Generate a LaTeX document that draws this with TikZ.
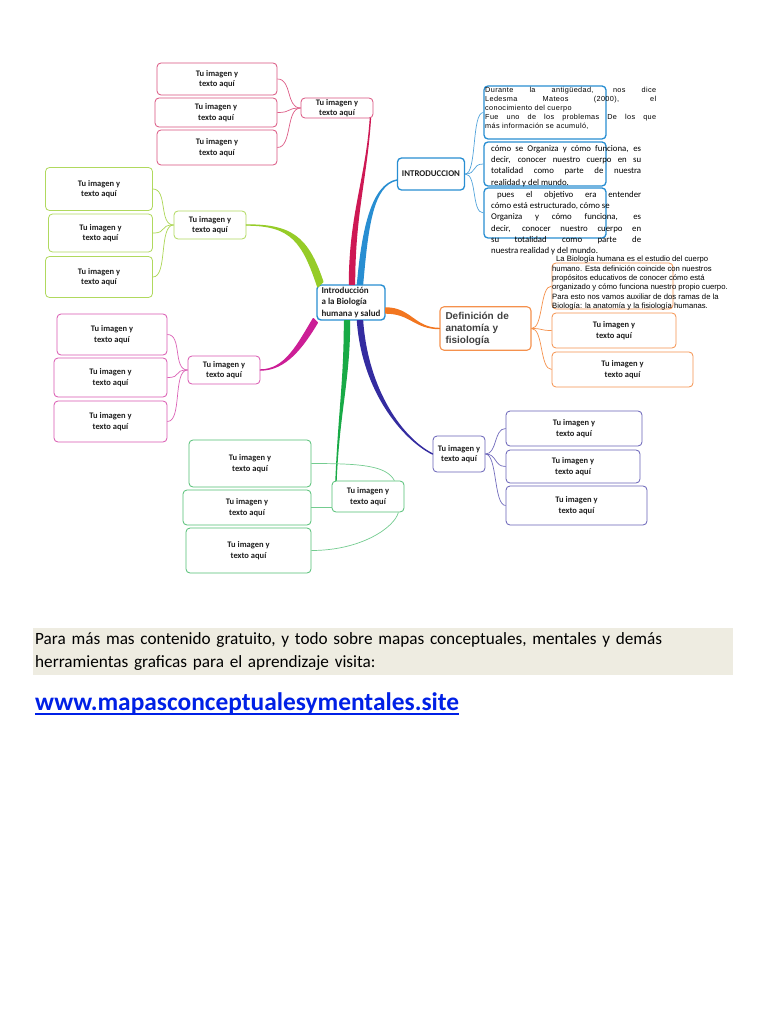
\documentclass[tikz,border=0pt]{standalone}
\usepackage{fontspec}
\setmainfont{Carlito}
\newfontfamily\arialfont{Liberation Sans}
\usetikzlibrary{positioning,calc}
\definecolor{mmred}{RGB}{206,24,84}
\definecolor{mmlime}{RGB}{150,204,40}
\definecolor{mmmagenta}{RGB}{204,30,150}
\definecolor{mmgreen}{RGB}{24,170,70}
\definecolor{mmblue}{RGB}{40,142,210}
\definecolor{mmorange}{RGB}{242,118,32}
\definecolor{mmnavy}{RGB}{52,44,160}
\definecolor{mmtan}{RGB}{238,236,225}
\definecolor{mmlink}{RGB}{0,32,230}
\definecolor{mmtext}{RGB}{30,30,30}
\newcommand{\taper}[6]{%
  \filldraw[#1, line width=1.4pt, line join=round]
    ($(#2)+(#6)$) .. controls +(#4) and +(#5) .. (#3)
    .. controls +(#5) and +(#4) .. ($(#2)-(#6)$) -- cycle;}

\begin{document}
\begin{tikzpicture}[x=1pt, y=-1pt,
  leaf/.style={draw, fill=white, rounded corners=4pt, line width=0.8pt, align=center,
               inner sep=1pt, text=mmtext, font=\fontsize{8.5}{10.5}\selectfont\bfseries},
  redleaf/.style={leaf, draw=mmred!75},
  limeleaf/.style={leaf, draw=mmlime!75},
  magleaf/.style={leaf, draw=mmmagenta!75},
  greenleaf/.style={leaf, draw=mmgreen!75},
  orangeleaf/.style={leaf, draw=mmorange!80},
  navyleaf/.style={leaf, draw=mmnavy!75},
  introbox/.style={draw=mmblue, rounded corners=4pt, line width=1.3pt, inner sep=0pt},
  twig/.style={line width=0.7pt},
  note/.style={inner sep=0pt, anchor=north west, align=justify, text=black},
]
\fill[white] (0,0) rectangle (768,1024);

\node[leaf, draw=mmblue, line width=1.4pt, align=left, minimum width=68pt, minimum height=35pt,
      font=\fontsize{9}{11.5}\selectfont\bfseries] (centre) at (351,302.5)
      {Introducción\\a la Biología\\humana y salud};

\node[redleaf, minimum width=72pt, minimum height=20pt] (redhub) at (337,108) {Tu imagen y\\texto aquí};
\node[redleaf, minimum width=120pt, minimum height=32pt] (reda) at (217,79) {Tu imagen y\\texto aquí};
\node[redleaf, minimum width=122pt, minimum height=29pt] (redb) at (216,112.5) {Tu imagen y\\texto aquí};
\node[redleaf, minimum width=120pt, minimum height=35pt] (redc) at (217,147.5) {Tu imagen y\\texto aquí};

\node[limeleaf, minimum width=72pt, minimum height=28pt] (limehub) at (210,225) {Tu imagen y\\texto aquí};
\node[limeleaf, minimum width=107pt, minimum height=43pt] (limea) at (99,189) {Tu imagen y\\texto aquí};
\node[limeleaf, minimum width=104pt, minimum height=38pt] (limeb) at (100.5,233) {Tu imagen y\\texto aquí};
\node[limeleaf, minimum width=107pt, minimum height=41pt] (limec) at (99,277) {Tu imagen y\\texto aquí};

\node[magleaf, minimum width=72pt, minimum height=28pt] (maghub) at (224,370) {Tu imagen y\\texto aquí};
\node[magleaf, minimum width=110pt, minimum height=41pt] (maga) at (112,334.5) {Tu imagen y\\texto aquí};
\node[magleaf, minimum width=113pt, minimum height=39pt] (magb) at (110.5,377.5) {Tu imagen y\\texto aquí};
\node[magleaf, minimum width=113pt, minimum height=41pt] (magc) at (110.5,421.5) {Tu imagen y\\texto aquí};

\node[greenleaf, minimum width=72pt, minimum height=31pt] (greenhub) at (368,496.5) {Tu imagen y\\texto aquí};
\node[greenleaf, minimum width=122pt, minimum height=47pt] (greena) at (250,463.5) {Tu imagen y\\texto aquí};
\node[greenleaf, minimum width=128pt, minimum height=35pt] (greenb) at (247,507.5) {Tu imagen y\\texto aquí};
\node[greenleaf, minimum width=125pt, minimum height=45pt] (greenc) at (248.5,550.5) {Tu imagen y\\texto aquí};

\node[leaf, draw=mmblue, line width=1.3pt, minimum width=67pt, minimum height=32pt,
      font=\fontsize{8.8}{10.5}\selectfont\bfseries] (intro) at (431,174) {INTRODUCCION};
\node[introbox, minimum width=122pt, minimum height=53pt] (introa) at (545,112.5) {};
\node[introbox, minimum width=122pt, minimum height=44pt] (introb) at (545,164) {};
\node[introbox, minimum width=122pt, minimum height=50pt] (introc) at (545,213) {};
\node[note, text width=171pt, font=\arialfont\addfontfeature{LetterSpace=5}\fontsize{7.3}{9}\selectfont] (introatxt) at (485,87)
  {Durante la antigüedad, nos dice\linebreak Ledesma Mateos (2000), el\linebreak
   conocimiento del cuerpo\newline Fue uno de los problemas De los que\linebreak
   más información se acumuló,};
\node[note, text width=150pt, font=\fontsize{8.8}{11.3}\selectfont] (introbtxt) at (491,145)
  {cómo se Organiza y cómo funciona, es\linebreak decir, conocer nuestro cuerpo en su\linebreak
   totalidad como parte de nuestra\linebreak realidad y del mundo.};
\node[note, text width=150pt, font=\fontsize{8.8}{11.3}\selectfont] (introctxt) at (491,191)
  {\hspace*{6pt}pues el objetivo era entender\linebreak cómo está estructurado, cómo se\newline
   Organiza y cómo funciona, es\linebreak decir, conocer nuestro cuerpo en\linebreak
   su totalidad como parte de\linebreak nuestra realidad y del mundo.};

\node[leaf, draw=mmorange!80, line width=1.1pt, align=left, text width=80pt, inner sep=5pt,
      minimum width=91pt, minimum height=39pt, text=black!75,
      font=\arialfont\fontsize{10}{12}\selectfont\bfseries] (defin) at (485.5,328.5)
      {Definición de\\anatomía y\\fisiología};
\node[orangeleaf, minimum width=121pt, minimum height=46pt] (orangea) at (612.5,286) {};
\node[orangeleaf, minimum width=124pt, minimum height=35pt] (orangeb) at (614,330.5) {Tu imagen y\\texto aquí};
\node[orangeleaf, minimum width=141pt, minimum height=35pt] (orangec) at (622.5,369.5) {Tu imagen y\\texto aquí};
\node[note, align=left, font=\arialfont\fontsize{7.7}{9.3}\selectfont] (orangetxt) at (552,256)
  {\hspace*{4pt}La Biología humana es el estudio del cuerpo\\
   humano. Esta definición coincide con nuestros\\
   propósitos educativos de conocer cómo está\\
   organizado y cómo funciona nuestro propio cuerpo.\\
   Para esto nos vamos auxiliar de dos ramas de la\\
   Biología: la anatomía y la fisiología humanas.};

\node[navyleaf, minimum width=52pt, minimum height=36pt] (navyhub) at (459,454) {Tu imagen y\\texto aquí};
\node[navyleaf, minimum width=136pt, minimum height=35pt] (navya) at (574,428.5) {Tu imagen y\\texto aquí};
\node[navyleaf, minimum width=134pt, minimum height=33pt] (navyb) at (573,466.5) {Tu imagen y\\texto aquí};
\node[navyleaf, minimum width=141pt, minimum height=39pt] (navyc) at (576.5,505.5) {Tu imagen y\\texto aquí};

\taper{mmred}{[xshift=1pt]centre.north}{[xshift=-3pt]redhub.south east}{0,-70}{-4,60}{2.5,0}
\taper{mmlime}{[xshift=4pt]centre.north west}{limehub.east}{-15,-45}{45,0}{2.5,-2.5}
\taper{mmblue}{[xshift=9pt]centre.north}{[yshift=-6pt]intro.west}{5,-55}{-25,5}{2.5,0}
\taper{mmorange}{[yshift=-8pt]centre.east}{defin.west}{25,0}{-25,0}{0,2.5}
\taper{mmmagenta}{[xshift=-1pt]centre.south west}{maghub.east}{-15,25}{25,0}{2,2}
\taper{mmgreen}{[xshift=-4pt]centre.south}{[xshift=-32pt]greenhub.north}{0,60}{3,-70}{2.5,0}
\taper{mmnavy}{[xshift=9pt]centre.south}{navyhub.west}{5,70}{-30,-15}{2.5,0}

\foreach \leafname in {reda,redb,redc}
  \draw[twig, mmred!70] (redhub.west) .. controls +(-15,0) and +(15,0) .. (\leafname.east);
\foreach \leafname in {limea,limeb,limec}
  \draw[twig, mmlime!80] (limehub.west) .. controls +(-15,0) and +(15,0) .. (\leafname.east);
\foreach \leafname in {maga,magb,magc}
  \draw[twig, mmmagenta!70] (maghub.west) .. controls +(-15,0) and +(15,0) .. (\leafname.east);
\foreach \leafname in {introa,introb,introc}
  \draw[twig, mmblue!80] (intro.east) .. controls +(12,0) and +(-12,0) .. (\leafname.west);
\foreach \leafname in {orangea,orangeb,orangec}
  \draw[twig, mmorange!80] (defin.east) .. controls +(12,0) and +(-12,0) .. (\leafname.west);
\foreach \leafname in {navya,navyb,navyc}
  \draw[twig, mmnavy!70] (navyhub.east) .. controls +(12,0) and +(-12,0) .. (\leafname.west);
\draw[twig, mmgreen!60] (greena.east) .. controls +(50,0) and +(-8,-15) .. ([xshift=-10pt]greenhub.north east);
\draw[twig, mmgreen!60] (greenb.east) -- (greenb.east -| greenhub.west);
\draw[twig, mmgreen!60] (greenc.east) .. controls +(50,0) and +(-4,15) .. ([xshift=-6pt]greenhub.south east);

\node[note, align=left, fill=mmtan, inner xsep=2pt, text width=696pt, minimum height=47pt,
      font=\fontsize{17.2}{23}\selectfont] (visit) at (33,628)
  {Para más mas contenido gratuito, y todo sobre mapas conceptuales, mentales y demás\\
   herramientas graficas para el aprendizaje visita:};
\node[anchor=west, inner sep=0pt, text=mmlink, font=\fontsize{25.4}{28}\selectfont\bfseries] (site) at (35,704)
  {www.mapasconceptualesymentales.site};
\draw[mmlink, line width=1.3pt] ([yshift=-3pt]site.base west) -- ([yshift=-3pt]site.base east);
\end{tikzpicture}
\end{document}
